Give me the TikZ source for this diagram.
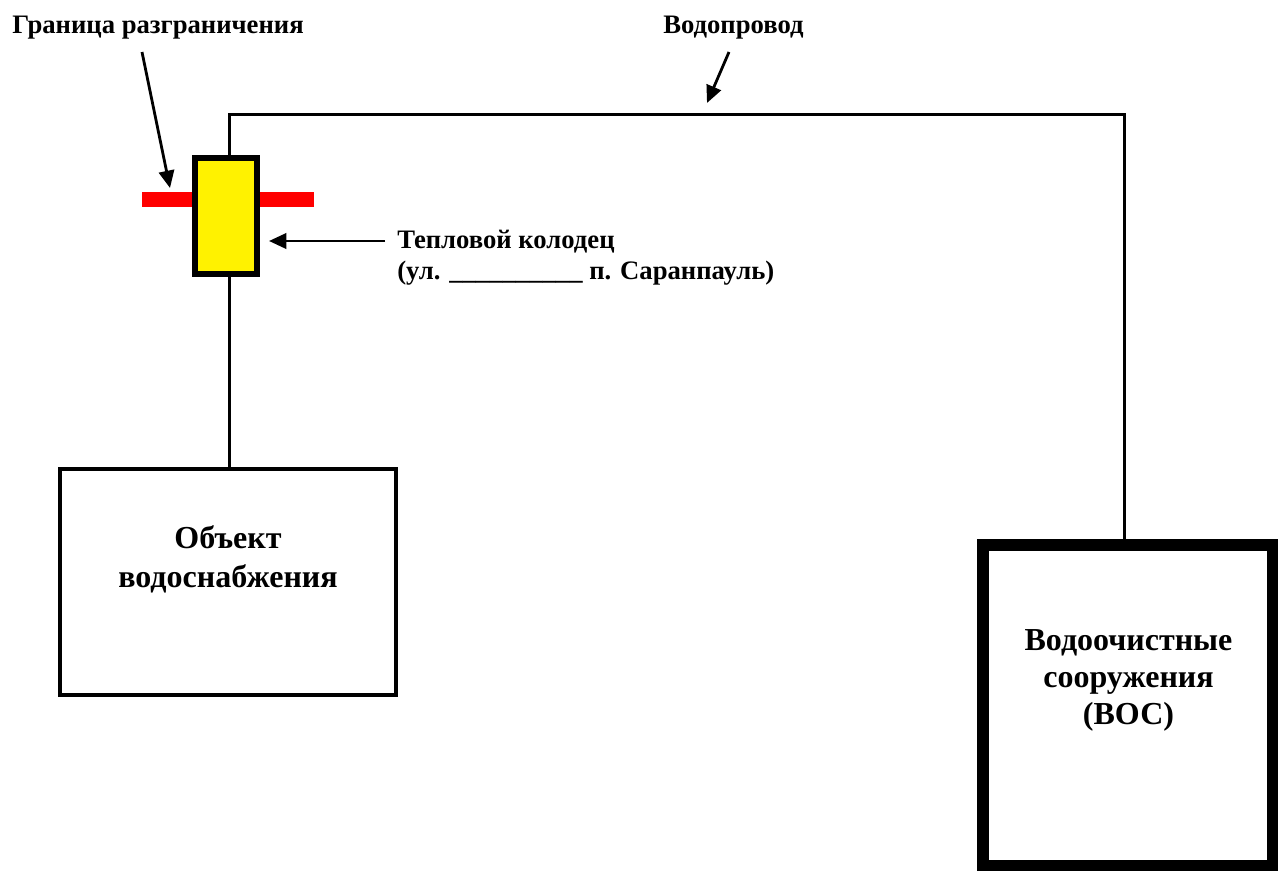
\documentclass[tikz,border=0pt]{standalone}
\usepackage{fontspec}
\setmainfont{Liberation Serif}
\usetikzlibrary{arrows.meta}
\begin{document}
\begin{tikzpicture}[x=0.75pt,y=-0.75pt,
  pipe/.style={line width=2.25pt},
  ptr/.style={line width=2.1pt,-{Triangle[length=13pt,width=11.5pt]}},
  lbl/.style={font=\bfseries\fontsize{20}{24}\selectfont, inner sep=0pt},
  boxtxt/.style={font=\bfseries\fontsize{24}{29}\selectfont, inner sep=0pt},
]
\useasboundingbox (0,0) rectangle (1278,871);
\fill[white] (0,0) rectangle (1278,871);

% boundary bar and well
\node[fill=red, inner sep=0pt, minimum width=129pt, minimum height=11.25pt] (bar) at (228,199.5) {};
\node[draw, fill=yellow, line width=4.5pt, inner sep=0pt, minimum width=46.5pt, minimum height=87pt] (kol) at (226,216) {};

% boxes
\node[draw, line width=3pt, inner sep=0pt, minimum width=252pt, minimum height=169.5pt] (obj) at (228,582) {};
\node[draw, line width=9pt, inner sep=0pt, minimum width=217.5pt, minimum height=240.75pt] (boc) at (1128,705.5) {};

% pipes
\coordinate (tl) at (229,114);
\coordinate (tr) at (1124,114);
\draw[pipe] (kol.north -| tl) -- (tl) -- (tr) -- (boc.north -| tr);
\draw[pipe] (kol.south -| tl) -- (obj.north -| tl);

% labels
\node[lbl, anchor=base west] (gr) at (12,33) {Граница разграничения};
\node[lbl, anchor=base west] (vp) at (663,33) {Водопровод};
\node[lbl, anchor=base west] (kt1) at (397,248) {Тепловой колодец};
\node[lbl, anchor=base west] (kt2) at (397,279) {(ул. \_\_\_\_\_\_\_\_\_\_ п. Саранпауль)};

% pointer arrows
\coordinate (ga) at (142,52);
\coordinate (gt) at (170,188);
\draw[ptr] (ga) -- (gt);
\coordinate (va) at (729,52);
\coordinate (vt) at (707,103);
\draw[ptr] (va) -- (vt);
\coordinate (ka) at (385,241);
\coordinate (kt) at (269,241);
\draw[ptr] (ka) -- (kt);

% box texts
\node[boxtxt, anchor=base] (o1) at (228,548) {Объект};
\node[boxtxt, anchor=base] (o2) at (228,587) {водоснабжения};
\node[boxtxt, anchor=base] (b1) at (1128.5,650) {Водоочистные};
\node[boxtxt, anchor=base] (b2) at (1128.5,687) {сооружения};
\node[boxtxt, anchor=base] (b3) at (1128.5,724) {(ВОС)};
\end{tikzpicture}
\end{document}
